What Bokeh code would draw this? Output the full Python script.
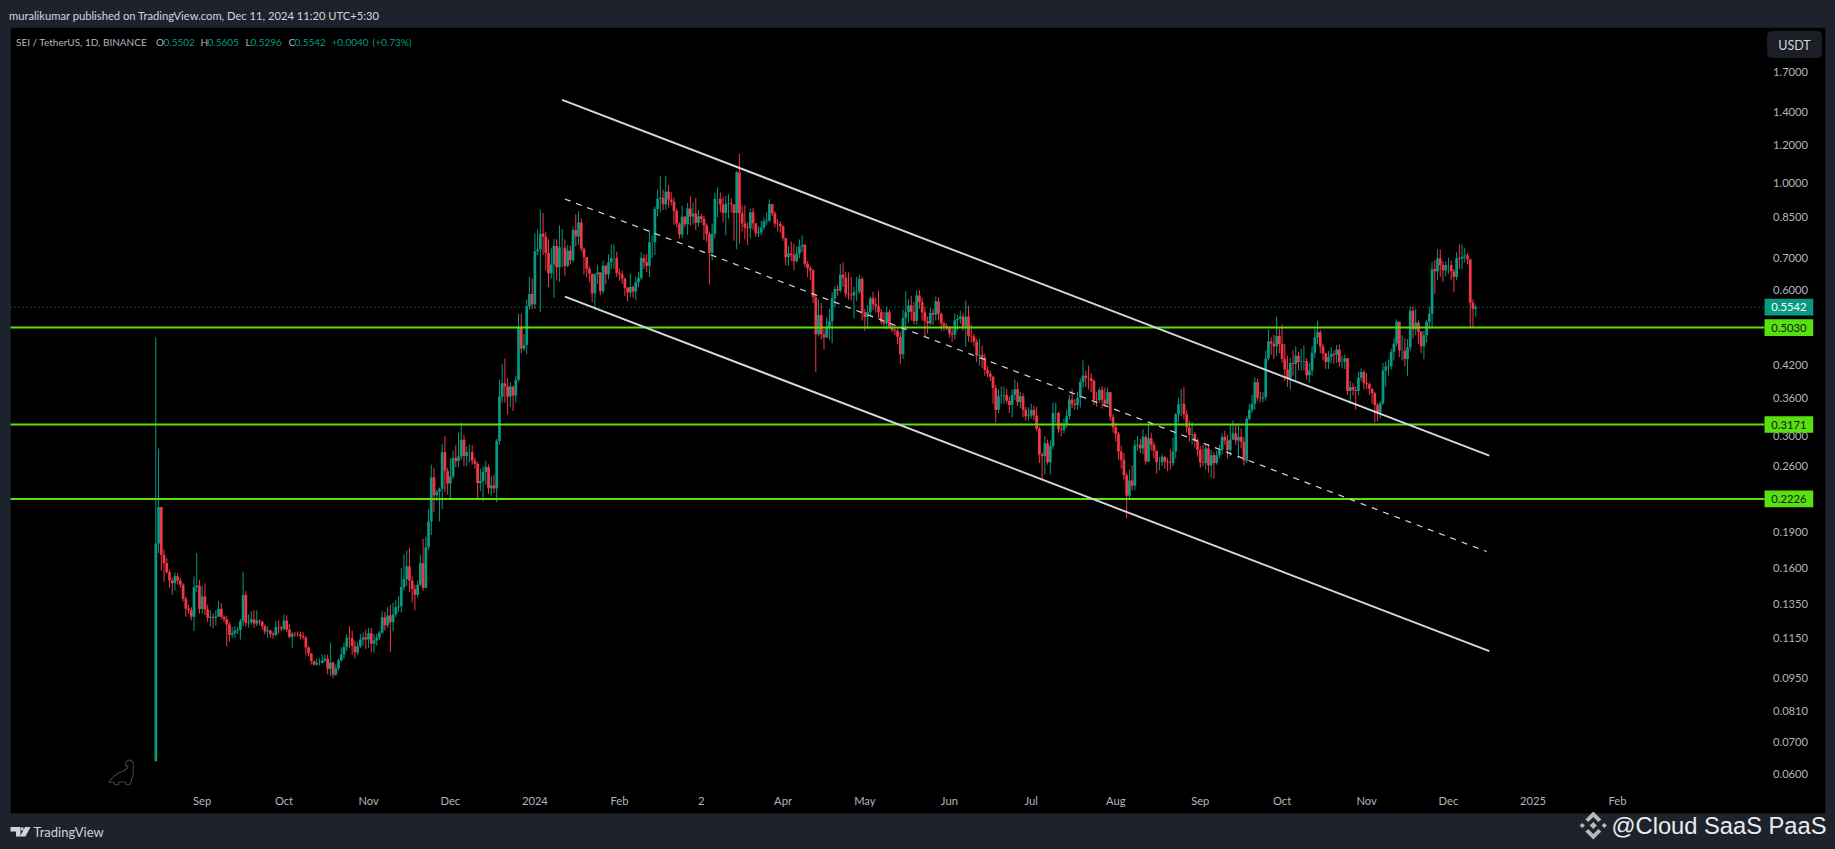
from bokeh.plotting import figure
from bokeh.embed import file_html
from bokeh.resources import INLINE
from bokeh.core.properties import value
from bokeh.models import (Range1d, LinearAxis, LogAxis, FixedTicker, PrintfTickFormatter,
                          Label, PolyAnnotation, BoxAnnotation, ColumnDataSource)
import datetime as dt
import math

# ---------- data ----------
first_open = 0.0640
closes = [
 .1800,.2143,.1706,.1640,.1570,.1509,.1490,.1540,.1510,.1480,
 .1385,.1320,.1310,.1270,.1463,.1475,.1318,.1400,.1315,.1265,
 .1270,.1265,.1270,.1320,.1270,.1255,.1225,.1165,.1175,.1190,
 .1195,.1245,.1410,.1235,.1240,.1255,.1230,.1248,.1242,.1215,
 .1185,.1190,.1172,.1165,.1210,.1208,.1200,.1247,.1195,.1155,
 .1172,.1170,.1168,.1158,.1150,.1098,.1068,.1030,.1012,.1020,
 .1020,.1032,.1040,.0992,.1022,.0965,.0995,.1032,.1062,.1100,
 .1150,.1148,.1105,.1072,.1105,.1140,.1152,.1140,.1175,.1118,
 .1135,.1152,.1178,.1268,.1220,.1278,.1238,.1285,.1330,.1335,
 .1463,.1520,.1615,.1509,.1450,.1410,.1480,.1640,.1458,.1769,
 .2000,.2466,.2265,.2305,.2335,.2780,.2540,.2395,.2475,.2705,
 .2665,.2725,.2950,.2730,.2780,.2780,.2670,.2630,.2400,.2425,
 .2530,.2590,.2340,.2375,.2340,.2935,.3620,.3858,.3800,.3620,
 .3800,.3640,.3920,.5050,.4550,.4630,.5570,.5900,.5620,.7235,
 .7290,.7860,.7750,.7170,.6510,.6790,.7410,.6700,.7360,.7360,
 .6740,.7260,.6930,.8000,.7760,.8290,.7320,.7030,.6650,.6500,
 .5920,.6480,.6540,.5980,.6750,.6480,.6860,.7000,.7000,.6520,
 .6480,.6350,.6080,.5940,.6100,.5970,.6240,.6370,.7000,.6860,
 .6740,.7550,.7550,.8840,.9280,.9330,.9040,.9600,.9250,.9150,
 .8760,.8250,.7830,.8520,.8220,.8860,.8530,.8650,.8280,.8540,
 .8430,.8180,.7840,.7180,.7860,.9280,.9280,.9030,.8680,.9050,
 .9070,.9030,.8670,1.0530,.8660,.8250,.8100,.8070,.8700,.8260,
 .7880,.7910,.8100,.8340,.8370,.9050,.8660,.8250,.8230,.8140,
 .7700,.7030,.7150,.7100,.6900,.7150,.7400,.7460,.6810,.6670,
 .6600,.5810,.4870,.5340,.4870,.4800,.5040,.5180,.5780,.6040,
 .6000,.6470,.6370,.5910,.5880,.5860,.5960,.5970,.6340,.5410,
 .5290,.5410,.5780,.5620,.5570,.5410,.5170,.5130,.5410,.5050,
 .4970,.4950,.4810,.4430,.5270,.5410,.5590,.5420,.5190,.5860,
 .5680,.5410,.5190,.5130,.5390,.5350,.5700,.5370,.5130,.5060,
 .5040,.4890,.4860,.5210,.5240,.5300,.5050,.5300,.4830,.4820,
 .4700,.4400,.4420,.4360,.4110,.4040,.3980,.3770,.3400,.3630,
 .3640,.3650,.3550,.3480,.3650,.3750,.3530,.3630,.3400,.3300,
 .3310,.3400,.3310,.3110,.2750,.2730,.2900,.2650,.2860,.3350,
 .3350,.3100,.3090,.3180,.3300,.3570,.3500,.3480,.3600,.3880,
 .4000,.3960,.3950,.3900,.3570,.3560,.3740,.3570,.3500,.3700,
 .3290,.3130,.3030,.2790,.2680,.2490,.2260,.2430,.2370,.2870,
 .2880,.2830,.2990,.2660,.2970,.2880,.2800,.2650,.2650,.2720,
 .2660,.2650,.2640,.2790,.3330,.3490,.3500,.3330,.3130,.3020,
 .3030,.2930,.2810,.2650,.2640,.2830,.2610,.2740,.2640,.2740,
 .2810,.2990,.2940,.2810,.2950,.3040,.2940,.2990,.2920,.2670,
 .3260,.3400,.3500,.3880,.3600,.3590,.3610,.4340,.4710,.4660,
 .4600,.4830,.4650,.4330,.4120,.3950,.4250,.4230,.4400,.4270,
 .4280,.4290,.4010,.4100,.4460,.4800,.4920,.4600,.4450,.4270,
 .4370,.4440,.4420,.4530,.4270,.4270,.4350,.3720,.3790,.3740,
 .3720,.3960,.4070,.3860,.3840,.3760,.3680,.3480,.3360,.3510,
 .4100,.4180,.4190,.4480,.4660,.5170,.4510,.4510,.4330,.4580,
 .5450,.4990,.5150,.4930,.4600,.4850,.5170,.5370,.6640,.6570,
 .6990,.6770,.6600,.6770,.6770,.6570,.6400,.7000,.6980,.7050,
 .7090,.6960,.5660,.5502,.5542,
]
highs = [
 .4800,.2830,.2143,.1750,.1680,.1590,.1530,.1570,.1565,.1530,
 .1490,.1400,.1345,.1330,.1540,.1720,.1515,.1470,.1490,.1345,
 .1310,.1290,.1310,.1370,.1355,.1280,.1275,.1240,.1210,.1215,
 .1210,.1258,.1575,.1435,.1285,.1305,.1310,.1310,.1255,.1245,
 .1225,.1215,.1195,.1185,.1245,.1250,.1215,.1285,.1280,.1225,
 .1182,.1182,.1185,.1185,.1180,.1160,.1105,.1068,.1030,.1042,
 .1042,.1062,.1062,.1062,.1124,.1025,.1012,.1042,.1098,.1122,
 .1170,.1215,.1190,.1135,.1125,.1170,.1178,.1195,.1205,.1205,
 .1170,.1172,.1188,.1305,.1300,.1330,.1345,.1360,.1375,.1400,
 .1600,.1711,.1740,.1765,.1540,.1480,.1510,.1710,.1840,.1860,
 .2120,.2620,.2580,.2320,.2350,.2890,.3000,.2580,.2700,.2800,
 .2880,.3050,.3200,.3020,.2860,.2880,.2880,.2710,.2650,.2570,
 .2600,.2670,.2620,.2480,.2500,.2960,.3930,.4230,.4340,.3960,
 .3870,.3810,.4000,.5370,.5370,.4880,.5750,.6400,.6350,.7880,
 .8020,.8810,.8670,.7920,.7650,.7340,.7670,.7650,.8180,.8040,
 .7650,.7450,.7430,.8130,.8620,.8750,.8440,.7350,.7030,.6730,
 .6490,.6510,.6780,.6540,.6910,.6780,.7130,.7470,.7470,.7220,
 .6660,.6600,.6380,.6100,.6490,.6150,.6420,.6560,.7200,.7130,
 .7130,.8000,.7800,.8950,.9700,1.0330,.9690,1.0360,.9900,.9590,
 .9340,.8850,.8300,.8980,.8550,.9100,.9400,.9110,.9320,.8800,
 .8650,.8550,.8250,.7940,.8250,.9550,.9800,.9560,.9370,.9400,
 .9480,.9300,.9050,1.0600,1.1500,.9000,.9000,.8300,.8850,.8880,
 .8260,.8140,.8350,.8500,.8700,.9260,.9050,.8750,.8430,.8350,
 .8180,.7690,.7400,.7580,.7500,.7400,.7650,.7800,.7480,.6900,
 .6750,.6640,.5900,.5750,.5650,.5000,.5280,.5500,.5950,.6120,
 .6150,.6800,.6860,.6560,.6540,.6400,.6100,.6400,.6450,.6400,
 .5490,.5590,.5830,.5960,.5800,.5990,.5500,.5420,.5550,.5480,
 .5100,.5050,.5000,.4920,.5480,.5980,.5750,.5850,.5680,.6000,
 .6010,.5800,.5550,.5300,.5520,.5500,.5830,.5810,.5400,.5180,
 .5130,.5070,.4990,.5380,.5350,.5450,.5400,.5720,.5580,.5100,
 .4880,.4760,.4760,.4620,.4440,.4180,.4100,.4000,.3830,.3740,
 .3800,.3800,.3760,.3620,.3740,.3930,.3880,.3700,.3680,.3450,
 .3440,.3500,.3470,.3450,.3140,.2780,.3000,.2950,.2940,.3520,
 .3520,.3370,.3200,.3260,.3400,.3650,.3750,.3580,.3700,.3950,
 .4300,.4100,.4200,.4050,.3930,.3700,.3780,.3810,.3780,.3780,
 .3620,.3330,.3200,.3060,.2870,.2770,.2520,.2560,.2610,.2950,
 .3000,.2960,.3100,.3030,.3170,.3050,.2920,.2770,.2720,.2760,
 .2720,.2700,.2820,.2980,.3350,.3600,.3750,.3790,.3390,.3230,
 .3210,.3060,.2970,.2860,.2880,.2890,.2890,.2810,.2780,.2800,
 .2880,.3040,.3080,.3020,.3170,.3230,.3180,.3170,.3110,.2990,
 .3300,.3500,.3650,.3970,.3940,.3700,.3700,.4510,.4980,.4800,
 .4860,.5300,.5000,.5110,.4650,.4400,.4350,.4510,.4600,.4480,
 .4550,.4620,.4350,.4250,.4600,.5000,.5200,.4980,.4650,.4450,
 .4500,.4580,.4500,.4630,.4640,.4400,.4420,.4350,.3900,.3860,
 .3800,.4080,.4140,.4110,.4050,.3880,.3770,.3700,.3510,.3540,
 .4250,.4280,.4320,.4550,.4780,.5230,.5170,.4850,.4780,.4760,
 .5570,.5560,.5500,.5200,.4950,.4950,.5210,.5560,.6880,.6930,
 .7300,.7290,.6900,.6880,.7020,.6920,.6650,.7200,.7470,.7470,
 .7350,.7170,.6980,.5750,.5605,
]
lows = [
 .0637,.1720,.1580,.1500,.1560,.1460,.1410,.1440,.1480,.1460,
 .1365,.1270,.1290,.1250,.1187,.1430,.1290,.1290,.1280,.1240,
 .1212,.1203,.1220,.1272,.1255,.1240,.1105,.1130,.1150,.1150,
 .1170,.1140,.1215,.1212,.1207,.1222,.1205,.1215,.1220,.1195,
 .1168,.1150,.1150,.1145,.1158,.1172,.1187,.1190,.1182,.1145,
 .1097,.1155,.1155,.1140,.1140,.1058,.1052,.1012,.1008,.1008,
 .1008,.1018,.1022,.0967,.0958,.0949,.0958,.0985,.1028,.1042,
 .1080,.1095,.1062,.1042,.1058,.1095,.1108,.1090,.1095,.1075,
 .1070,.1108,.1138,.1172,.1190,.1205,.1073,.1185,.1268,.1300,
 .1295,.1440,.1470,.1430,.1360,.1310,.1390,.1470,.1440,.1455,
 .1745,.1875,.2090,.2205,.2000,.2120,.2300,.2270,.2230,.2450,
 .2590,.2590,.2680,.2600,.2600,.2650,.2620,.2570,.2235,.2310,
 .2200,.2380,.2280,.2260,.2290,.2190,.2880,.3520,.3520,.3330,
 .3450,.3380,.3520,.3890,.4450,.4500,.4430,.5480,.5500,.5500,
 .7100,.5410,.7100,.6600,.6100,.6350,.5790,.6290,.6250,.6700,
 .6440,.6700,.6790,.6860,.7400,.7450,.7220,.6470,.6380,.6250,
 .5670,.5480,.6190,.5870,.5910,.6180,.6330,.6640,.6640,.6400,
 .6280,.6200,.5850,.5700,.5820,.5800,.5740,.6100,.6300,.6650,
 .6540,.6400,.7000,.7100,.8530,.8700,.8800,.8800,.8900,.8990,
 .8200,.8100,.7680,.7700,.8100,.7810,.8160,.8200,.7990,.8130,
 .8280,.7620,.7550,.6170,.6920,.7700,.8500,.8700,.8300,.7800,
 .8450,.8700,.7600,.7300,.7500,.7950,.7650,.7450,.7700,.8000,
 .7750,.7730,.7800,.8000,.8200,.8300,.8550,.8100,.7950,.7900,
 .7600,.6770,.6750,.6900,.6600,.6850,.7000,.7200,.6700,.6400,
 .6300,.5650,.4070,.4820,.4750,.4530,.4780,.4750,.4670,.5550,
 .5850,.5950,.6100,.5800,.5740,.5720,.5250,.5700,.5900,.5200,
 .4950,.5000,.5300,.5450,.5400,.5250,.5100,.5000,.4980,.5000,
 .4920,.4850,.4650,.4230,.4330,.5000,.5150,.5200,.5100,.5100,
 .5500,.5200,.4820,.4890,.5080,.5100,.5200,.5200,.4950,.4950,
 .4960,.4800,.4700,.4750,.4960,.5120,.4950,.4590,.4700,.4680,
 .4600,.4270,.4200,.4150,.4000,.3970,.3900,.3500,.3200,.3350,
 .3500,.3500,.3500,.3350,.3280,.3560,.3460,.3430,.3280,.3230,
 .3230,.3260,.3240,.3070,.2640,.2430,.2500,.2620,.2500,.2820,
 .3200,.3050,.3000,.3040,.3120,.3250,.3430,.3400,.3400,.3440,
 .3780,.3800,.3750,.3700,.3480,.3450,.3520,.3420,.3450,.3480,
 .3230,.3050,.2920,.2680,.2570,.2440,.2030,.2230,.2320,.2320,
 .2800,.2770,.2750,.2620,.2650,.2800,.2700,.2510,.2550,.2600,
 .2570,.2540,.2560,.2600,.2700,.3200,.3300,.3250,.3050,.2920,
 .2880,.2840,.2720,.2580,.2600,.2560,.2520,.2460,.2450,.2620,
 .2700,.2750,.2880,.2700,.2730,.2950,.2880,.2700,.2830,.2610,
 .2640,.3230,.3350,.3400,.3550,.3520,.3530,.3550,.4300,.4420,
 .4330,.4400,.4450,.4250,.3900,.3790,.3740,.4000,.3900,.4100,
 .4100,.4100,.3920,.3870,.4000,.4350,.4650,.4450,.4300,.4130,
 .4130,.4240,.4230,.4250,.4180,.4140,.4130,.3650,.3500,.3640,
 .3400,.3640,.3900,.3750,.3750,.3650,.3500,.3200,.3220,.3270,
 .3480,.3800,.4000,.4120,.4300,.4600,.4370,.4300,.4180,.4000,
 .4500,.4780,.4850,.4650,.4450,.4330,.4680,.5000,.5000,.5900,
 .6300,.6400,.6250,.6420,.6500,.6300,.5950,.6300,.6650,.6650,
 .6850,.6800,.5030,.5030,.5296,
]
first_day = dt.date(2023, 8, 15)

level_prices = [0.5030, 0.3171, 0.2226]
last_price = 0.5542

# channel drawn on the chart: (date, price) ends
channel_upper = [(dt.date(2024, 1, 11), 1.485), (dt.date(2024, 12, 16), 0.2736)]
channel_mid = [(dt.date(2024, 1, 12), 0.927), (dt.date(2024, 12, 15), 0.1733)]
channel_lower = [(dt.date(2024, 1, 12), 0.583), (dt.date(2024, 12, 16), 0.1079)]

price_ticks = [1.7, 1.4, 1.2, 1.0, 0.85, 0.7, 0.6, 0.42, 0.36, 0.3, 0.26, 0.19, 0.16, 0.135, 0.115, 0.095, 0.081, 0.07, 0.06]
time_labels = ["Sep", "Oct", "Nov", "Dec", "2024", "Feb", "2", "Apr", "May", "Jun", "Jul", "Aug", "Sep", "Oct", "Nov", "Dec", "2025", "Feb"]
time_dates = [dt.date(2023, 9, 1), dt.date(2023, 10, 1), dt.date(2023, 11, 1), dt.date(2023, 12, 1), dt.date(2024, 1, 1),
              dt.date(2024, 2, 1), dt.date(2024, 3, 2), dt.date(2024, 4, 1), dt.date(2024, 5, 1), dt.date(2024, 6, 1),
              dt.date(2024, 7, 1), dt.date(2024, 8, 1), dt.date(2024, 9, 1), dt.date(2024, 10, 1), dt.date(2024, 11, 1),
              dt.date(2024, 12, 1), dt.date(2025, 1, 1), dt.date(2025, 2, 1)]

# ---------- layout ----------
PANEL = "#1e222d"
UP, DOWN = "#089981", "#f23645"
GREY, LIGHT = "#b2b5be", "#d1d4dc"
LEVEL = "#58e00f"
FONT = "Lato"
W, H = 1835, 849
L, R, T, B = 10, 1825, 27, 813        # black panel, page pixels
X0, PX_DAY = 201.7, 2.727             # page x of 1 Sep 2023, pixels per day
Y1, PX_LN = 182.6, 210.2              # page y of price 1.0, pixels per log unit


def day(d):
    return (d - dt.date(2023, 9, 1)).days


def x_at(px):
    return (px - X0) / PX_DAY


def p_at(py):
    return math.exp((Y1 - py) / PX_LN)


p = figure(width=W, height=H, output_backend="svg", toolbar_location=None,
           x_range=Range1d(x_at(0), x_at(W)), y_range=Range1d(p_at(H), p_at(0)),
           y_axis_type="log", x_axis_location=None, y_axis_location=None,
           min_border_left=0, min_border_right=0, min_border_top=0, min_border_bottom=0,
           background_fill_color=PANEL, border_fill_color=PANEL, outline_line_color=None)
p.grid.visible = False

p.add_layout(BoxAnnotation(left=L, right=R, top=T, bottom=B, left_units="canvas", right_units="canvas",
                           top_units="canvas", bottom_units="canvas", fill_color="#000000", fill_alpha=1,
                           line_color="#2a2e39", line_width=1, level="underlay"))

# ---------- candles ----------
opens = [first_open] + closes[:-1]
xs = [day(first_day) + i for i in range(len(closes))]
src = ColumnDataSource(dict(
    x=xs, o=opens, h=highs, l=lows, c=closes,
    top=[max(a, b) for a, b in zip(opens, closes)],
    bot=[min(a, b) for a, b in zip(opens, closes)],
    color=[UP if b >= a else DOWN for a, b in zip(opens, closes)],
))
p.segment("x", "l", "x", "h", source=src, line_color="color", line_width=1)
p.vbar("x", 1.0, "bot", "top", source=src, fill_color="color", line_color=None)

# ---------- levels and channel ----------
tag_left = x_at(1764)
tag_mid = x_at(1788.4)
p.segment([x_at(L)], [last_price], [tag_left], [last_price], line_color=UP, line_width=1, line_dash="1 3")
p.segment([x_at(L)] * 3, level_prices, [tag_left] * 3, level_prices, line_color=LEVEL, line_width=2)
for ch, w, dash in ((channel_upper, 1.9, "solid"), (channel_lower, 1.9, "solid"), (channel_mid, 1.2, "6 6")):
    p.line([day(c[0]) for c in ch], [c[1] for c in ch], line_color="#d6d8de", line_width=w, line_dash=dash)

# ---------- price tags ----------
all_tags = [last_price] + level_prices
p.rect([tag_mid] * 4, all_tags, width=48.7, height=16.7, width_units="screen", height_units="screen",
       fill_color=[UP, LEVEL, LEVEL, LEVEL], line_color=None, level="annotation")
p.text([tag_mid] * 4, all_tags, text=[f"{v:.4f}" for v in all_tags], text_align="center", text_baseline="middle",
       text_color=["#ffffff", "#131722", "#131722", "#131722"], text_font=value(FONT), text_font_size="11.2px",
       level="annotation")

# ---------- axes drawn inside the panel ----------
yax = LogAxis(fixed_location=x_at(1770.5), ticker=FixedTicker(ticks=price_ticks),
              formatter=PrintfTickFormatter(format="%.4f"))
xax = LinearAxis(fixed_location=p_at(791), ticker=FixedTicker(ticks=[day(d) for d in time_dates]),
                 major_label_overrides={day(d): s for d, s in zip(time_dates, time_labels)})
for ax in (yax, xax):
    ax.axis_line_color = None
    ax.major_tick_line_color = None
    ax.minor_tick_line_color = None
    ax.major_tick_out = 0
    ax.major_tick_in = 0
    ax.major_label_text_color = GREY
    ax.major_label_text_font = FONT
    ax.major_label_text_font_size = "11.2px"
    ax.major_label_standoff = 2
p.add_layout(yax, "right")
p.add_layout(xax, "below")


# ---------- texts ----------
def txt(s, px, py, color=GREY, size="10px", font=FONT, align="left"):
    p.add_layout(Label(x=px, y=py, x_units="canvas", y_units="canvas", text=s, text_color=color,
                       text_font=font, text_font_size=size, text_align=align, text_baseline="middle"))


txt("muralikumar published on TradingView.com, Dec 11, 2024 11:20 UTC+5:30", 8.5, 14.5, LIGHT, "11.2px")
txt("SEI / TetherUS, 1D, BINANCE", 15.5, 41.5, GREY, "10px")
for s, px, col in (("O", 155.5, GREY), ("0.5502", 163, UP), ("H", 200, GREY), ("0.5605", 207, UP),
                   ("L", 245, GREY), ("0.5296", 250, UP), ("C", 288, GREY), ("0.5542", 294, UP),
                   ("+0.0040", 331, UP), ("(+0.73%)", 372, UP)):
    txt(s, px, 41.5, col)
p.add_layout(BoxAnnotation(left=1767, right=1821, top=31, bottom=57, left_units="canvas",
                           right_units="canvas", top_units="canvas", bottom_units="canvas", fill_color="#1c1e26",
                           fill_alpha=1, line_color="#363a45", line_width=1, border_radius=4, level="annotation"))
txt("USDT", 1794, 44.5, LIGHT, "12.5px", align="center")
txt("TradingView", 33, 831.5, LIGHT, "13px")
txt("@Cloud SaaS PaaS", 1611, 825.5, "#ececec", "23.7px", "Liberation Sans")


# ---------- drawn icons ----------
def poly(points, fill=None, line=None, width=1.0):
    p.add_layout(PolyAnnotation(xs=[a for a, _ in points], ys=[b for _, b in points], xs_units="canvas",
                                ys_units="canvas", fill_color=fill, fill_alpha=1 if fill else 0,
                                line_color=line, line_width=width, level="annotation"))


poly([(10, 826.5), (20, 826.5), (20, 836), (15.5, 836), (15.5, 831), (10, 831)], fill=LIGHT)
poly([(24.5, 826.5), (30, 826.5), (25, 836), (19.5, 836)], fill=LIGHT)
poly([(20.5, 827), (23, 827), (23, 830), (20.5, 830)], fill=LIGHT)

cx, cy = 1592.8, 825
GR = "#b9b9b9"
for dx, r in ((0, 3.6), (-11, 2.6), (11, 2.6)):
    poly([(cx + dx, cy - r), (cx + dx + r, cy), (cx + dx, cy + r), (cx + dx - r, cy)], fill=GR)
for sgn in (1, -1):
    poly([(cx, cy - 14 * sgn), (cx + 8, cy - 6 * sgn), (cx + 5, cy - 3.5 * sgn), (cx, cy - 8.5 * sgn),
          (cx - 5, cy - 3.5 * sgn), (cx - 8, cy - 6 * sgn)], fill=GR)

dino = [(108.3, 781.7), (113, 776), (118, 772.5), (123, 770.5), (126.5, 768), (127.5, 765.5), (125, 765), (125, 762.5),
        (127, 760), (130, 759.5), (132.7, 762), (132.7, 775), (130.5, 780.5), (129.5, 784.3), (125.5, 784.3),
        (125, 781.5), (118.5, 781.5), (118, 784.3), (114.5, 784.3), (113.5, 781.7)]
poly(dino, line=LIGHT, width=1.1)

html = file_html(p, INLINE)
html = html.replace("</head>", "<style>html,body{background:#1e222d;overflow:hidden}</style></head>", 1)
open("out.html", "w").write(html)
